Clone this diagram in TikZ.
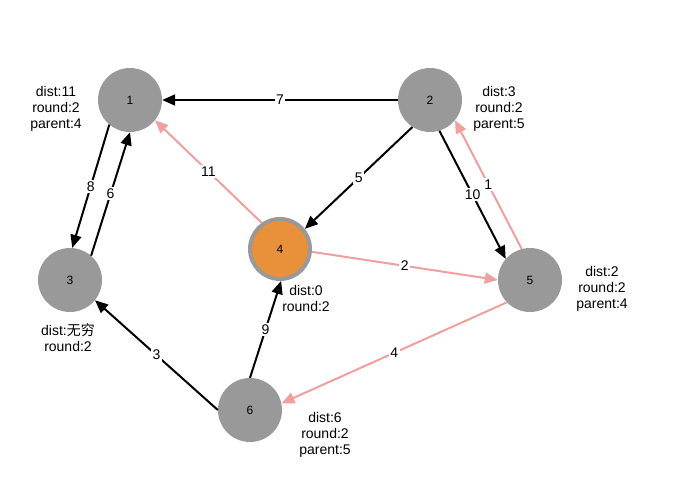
\documentclass[tikz,border=0pt]{standalone}
\usepackage{fontspec}
\setmainfont{Liberation Sans}
\newfontfamily\cjk{Noto Sans CJK SC}
\usepackage{xcolor}
\usepackage{tikz}
\usetikzlibrary{arrows.meta}
\definecolor{vgrey}{HTML}{999999}
\definecolor{vorange}{HTML}{E8903A}
\definecolor{vpink}{HTML}{EFA09E}

\begin{document}
\begin{tikzpicture}[
  x=1pt, y=-1pt,
  vertex/.style={
    circle, fill=vgrey, draw=none, minimum size=64pt, inner sep=0pt,
    font=\fontsize{12}{14}\selectfont
  },
  source/.style={
    circle, fill=vorange, draw=vgrey, line width=4pt, minimum size=60pt,
    inner sep=0pt, font=\fontsize{12}{14}\selectfont
  },
  info/.style={align=center, inner sep=0pt, font=\fontsize{14}{16}\selectfont},
  edge/.style={line width=2pt, draw=#1, -{Triangle[length=13pt,width=11pt]}},
  elabel/.style={fill=white, inner sep=1.5pt, font=\fontsize{14}{16}\selectfont},
]
\useasboundingbox (0,0) rectangle (695,478);

% vertices
\node[vertex] (n1) at (130,100) {1};
\node[vertex] (n2) at (430,100) {2};
\node[vertex] (n3) at (70,280) {3};
\node[source] (n4) at (280,249) {4};
\node[vertex] (n5) at (530,280) {5};
\node[vertex] (n6) at (250,410) {6};

% state of each vertex
\node[info] (i1) at (56,109) {dist:11\\round:2\\parent:4};
\node[info] (i2) at (499,109) {dist:3\\round:2\\parent:5};
\node[info] (i3) at (68,338) {dist:{\cjk 无穷}\\round:2};
\node[info] (i4) at (306,298) {dist:0\\round:2};
\node[info] (i5) at (602,289) {dist:2\\round:2\\parent:4};
\node[info] (i6) at (325,435) {dist:6\\round:2\\parent:5};

% plain edges
\draw[edge=black] (n2.180) -- node[elabel] {7} (n1.0);
\draw[edge=black] (n2.237) -- node[elabel] {5} (n4.39);
\draw[edge=black] (n2.287) -- node[elabel] {10} (n5.139);
\draw[edge=black] (n1.230) -- node[elabel] {8} (n3.86);
\draw[edge=black] (n3.49) -- node[elabel] {6} (n1.270);
\draw[edge=black] (n6.90) -- node[elabel] {9} (n4.272);
\draw[edge=black] (n6.180) -- node[elabel] {3} (n3.321);

% shortest path tree edges
\draw[edge=vpink] (n4.125) -- node[elabel] {11} (n1.321);
\draw[edge=vpink] (n4.-5) -- node[elabel] {2} (n5.180);
\draw[edge=vpink] (n5.105) -- node[elabel] {1} (n2.321);
\draw[edge=vpink] (n5.224) -- node[elabel] {4} (n6.12);

\end{tikzpicture}
\end{document}
